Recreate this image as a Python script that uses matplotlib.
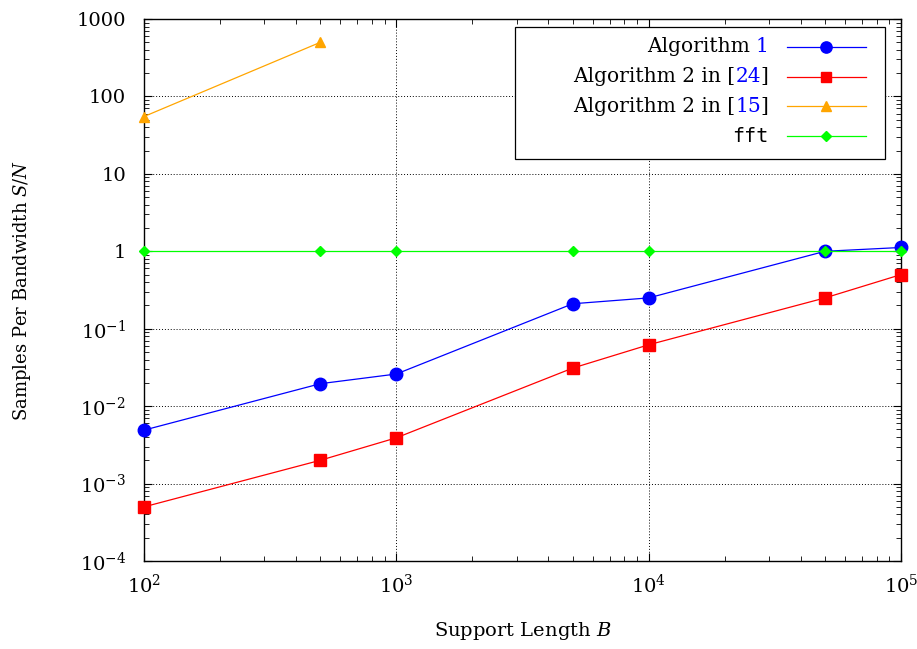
import matplotlib
matplotlib.use("Agg")
import matplotlib.pyplot as plt
from matplotlib.ticker import FixedLocator, FixedFormatter, LogLocator, NullFormatter
from matplotlib.offsetbox import TextArea, HPacker, VPacker, DrawingArea, AnchoredOffsetbox
from matplotlib.lines import Line2D
from matplotlib.patches import Rectangle

# ---------------- data ----------------
x_alg1 = [100, 500, 1000, 5000, 10000, 50000, 100000]
y_alg1 = [0.0049, 0.0195, 0.026, 0.21, 0.25, 1.0, 1.12]

x_alg2_24 = [100, 500, 1000, 5000, 10000, 50000, 100000]
y_alg2_24 = [0.0005, 0.002, 0.0039, 0.031, 0.062, 0.25, 0.5]

x_alg2_15 = [100, 500]
y_alg2_15 = [55, 500]

x_fft = [100, 500, 1000, 5000, 10000, 50000, 100000]
y_fft = [1, 1, 1, 1, 1, 1, 1]

y_ticks = [1e-4, 1e-3, 1e-2, 1e-1, 1, 10, 100, 1000]
y_ticklabels = [r"$10^{-4}$", r"$10^{-3}$", r"$10^{-2}$", r"$10^{-1}$", "1", "10", "100", "1000"]
x_ticks = [1e2, 1e3, 1e4, 1e5]
x_ticklabels = [r"$10^{2}$", r"$10^{3}$", r"$10^{4}$", r"$10^{5}$"]

FS = 14
plt.rcParams["font.family"] = ["DejaVu Serif"]
plt.rcParams["mathtext.fontset"] = "custom"
plt.rcParams["mathtext.rm"] = "DejaVu Serif"
plt.rcParams["mathtext.it"] = "DejaVu Serif:italic"
plt.rcParams["font.size"] = FS

fig = plt.figure(figsize=(9.17, 6.49), dpi=100)
AX_L, AX_R, AX_T, AX_B = 144, 901, 19, 561
W, H = AX_R - AX_L, AX_B - AX_T
ax = fig.add_axes([AX_L / 917, 1 - AX_B / 649, W / 917, H / 649])


def ax_x(px):
    return (px - AX_L) / W


def ax_y(py):
    return (AX_B - py) / H


blue = "#0000ff"
red = "#ff0000"
orange = "#ffa500"
green = "#00ff00"

styles = [
    (x_alg1, y_alg1, blue, "o", 9),
    (x_alg2_24, y_alg2_24, red, "s", 8.5),
    (x_alg2_15, y_alg2_15, orange, "^", 7.5),
    (x_fft, y_fft, green, "D", 5.5),
]
for xs, ys, c, m, ms in styles:
    ax.plot(xs, ys, color=c, marker=m, markersize=ms, linewidth=0.9, clip_on=False, zorder=3)

ax.set_xscale("log")
ax.set_yscale("log")
ax.set_xlim(1e2, 1e5)
ax.set_ylim(1e-4, 1e3)

ax.yaxis.set_major_locator(FixedLocator(y_ticks))
ax.yaxis.set_major_formatter(FixedFormatter(y_ticklabels))
ax.xaxis.set_major_locator(FixedLocator(x_ticks))
ax.xaxis.set_major_formatter(FixedFormatter(x_ticklabels))
ax.xaxis.set_minor_locator(LogLocator(base=10, subs=range(2, 10)))
ax.yaxis.set_minor_locator(LogLocator(base=10, subs=range(2, 10)))
ax.xaxis.set_minor_formatter(NullFormatter())
ax.yaxis.set_minor_formatter(NullFormatter())

ax.tick_params(which="both", direction="in", top=True, right=True, color="black")
ax.tick_params(which="major", length=6, width=0.8, labelsize=FS)
ax.tick_params(axis="x", which="major", pad=9)
ax.tick_params(axis="y", which="major", pad=13)
ax.tick_params(which="minor", length=3.5, width=0.6)
ax.grid(True, which="major", color="black", linestyle=(0, (1, 2)), linewidth=0.7)
for s in ax.spines.values():
    s.set_linewidth(1.0)

ax.set_xlabel(r"Support Length $B$", fontsize=FS)
ax.set_ylabel(r"Samples Per Bandwidth $S/N$", fontsize=13)
ax.xaxis.set_label_coords(0.5, ax_y(620))
ax.yaxis.set_label_coords(ax_x(33), 0.5)

# ---------------- custom legend ----------------
LFS = 14.5
frame = Rectangle((ax_x(515), ax_y(159)), ax_x(885) - ax_x(515), ax_y(27) - ax_y(159),
                  transform=ax.transAxes, facecolor="white", edgecolor="black",
                  linewidth=0.9, zorder=5)
ax.add_patch(frame)

rows_text = [
    [("Algorithm ", "black", "DejaVu Serif"), ("1", blue, "DejaVu Serif")],
    [("Algorithm 2 in [", "black", "DejaVu Serif"), ("24", blue, "DejaVu Serif"), ("]", "black", "DejaVu Serif")],
    [("Algorithm 2 in [", "black", "DejaVu Serif"), ("15", blue, "DejaVu Serif"), ("]", "black", "DejaVu Serif")],
    [("fft", "black", "DejaVu Sans Mono")],
]
rows = []
for parts, (xs, ys, c, m, ms) in zip(rows_text, styles):
    tas = [TextArea(t, textprops=dict(color=col, family=fam, size=LFS)) for t, col, fam in parts]
    txt = HPacker(children=tas, sep=0, pad=0, align="baseline")
    da = DrawingArea(57, 14, 0, 0)
    da.add_artist(Line2D([0, 57], [7, 7], color=c, linewidth=0.9))
    da.add_artist(Line2D([28.5], [7], color=c, marker=m, markersize=ms * 0.9, linestyle="none"))
    rows.append(HPacker(children=[txt, da], sep=13, pad=0, align="center"))
box = VPacker(children=rows, sep=7.5, pad=0, align="right")
anch = AnchoredOffsetbox(loc="upper right", child=box, pad=0, borderpad=0,
                         frameon=False, bbox_to_anchor=(ax_x(866), ax_y(37)),
                         bbox_transform=ax.transAxes)
anch.zorder = 6
ax.add_artist(anch)

fig.savefig("out.png", dpi=100)
